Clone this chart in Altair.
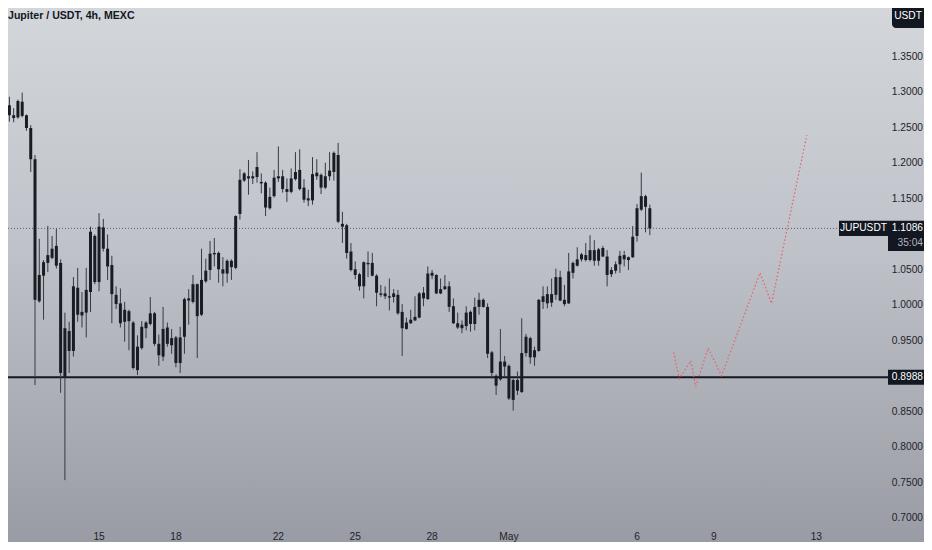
import altair as alt
import pandas as pd

# ---------------- data ----------------
open_ = [1.318, 1.282, 1.268, 1.265, 1.287, 1.268, 1.250, 1.206, 1.006, 1.042,
         1.060, 1.067, 1.084, 1.060, 0.899, 0.964, 0.936, 1.025, 0.991, 0.990,
         1.019, 1.098, 1.033, 1.110, 1.080, 1.057, 1.015, 1.003, 0.977, 0.992,
         0.976, 0.909, 0.940, 0.968, 0.974, 0.989, 0.946, 0.928, 0.969, 0.954,
         0.955, 0.919, 0.956, 1.007, 1.005, 1.030, 0.987, 1.034, 1.050, 1.072,
         1.074, 1.051, 1.045, 1.063, 1.053, 1.129, 1.176, 1.182, 1.182, 1.181,
         1.174, 1.173, 1.137, 1.154, 1.179, 1.182, 1.164, 1.160, 1.178, 1.191,
         1.166, 1.151, 1.148, 1.182, 1.184, 1.166, 1.182, 1.188, 1.212, 1.115,
         1.113, 1.076, 1.051, 1.044, 1.027, 1.060, 1.060, 1.042, 1.017, 1.017,
         1.013, 1.012, 1.015, 0.991, 0.976, 0.975, 0.979, 0.983, 1.010, 1.009,
         1.046, 1.043, 1.017, 1.023, 1.027, 0.999, 0.975, 0.968, 0.971, 0.991,
         0.974, 0.998, 1.008, 0.998, 0.934, 0.901, 0.896, 0.921, 0.915, 0.867,
         0.880, 0.878, 0.933, 0.954, 0.937, 0.936, 1.005, 1.016, 1.004, 1.015,
         1.040, 1.008, 1.003, 1.046, 1.056, 1.065, 1.071, 1.064, 1.078, 1.063,
         1.081, 1.069, 1.050, 1.049, 1.058, 1.071, 1.068, 1.068, 1.098, 1.135,
         1.154, 1.137]
high = [1.357, 1.294, 1.278, 1.290, 1.300, 1.269, 1.254, 1.212, 1.094, 1.064,
        1.112, 1.098, 1.108, 1.065, 0.990, 0.977, 1.040, 1.053, 1.019, 1.053,
        1.111, 1.100, 1.130, 1.122, 1.100, 1.070, 1.027, 1.024, 1.005, 0.994,
        0.978, 0.958, 0.978, 0.978, 1.012, 0.991, 0.959, 0.998, 0.976, 0.967,
        0.957, 0.970, 1.011, 1.023, 1.043, 1.031, 1.080, 1.066, 1.091, 1.095,
        1.076, 1.068, 1.065, 1.065, 1.127, 1.192, 1.188, 1.205, 1.189, 1.216,
        1.186, 1.175, 1.166, 1.191, 1.224, 1.191, 1.179, 1.193, 1.216, 1.220,
        1.178, 1.163, 1.209, 1.206, 1.186, 1.201, 1.216, 1.217, 1.229, 1.132,
        1.115, 1.088, 1.062, 1.046, 1.062, 1.076, 1.074, 1.044, 1.029, 1.027,
        1.038, 1.023, 1.022, 1.002, 0.983, 0.994, 1.013, 1.019, 1.026, 1.055,
        1.050, 1.044, 1.038, 1.043, 1.034, 1.010, 0.990, 0.979, 0.999, 0.993,
        1.011, 1.018, 1.010, 1.003, 0.936, 0.903, 0.967, 0.929, 0.917, 0.897,
        0.907, 0.982, 0.960, 0.956, 0.942, 1.009, 1.027, 1.027, 1.038, 1.052,
        1.049, 1.029, 1.074, 1.062, 1.082, 1.074, 1.088, 1.099, 1.092, 1.081,
        1.084, 1.078, 1.054, 1.062, 1.077, 1.077, 1.069, 1.112, 1.143, 1.187,
        1.156, 1.142]
low = [1.278, 1.259, 1.258, 1.263, 1.265, 1.246, 1.188, 0.888, 1.004, 0.980,
       1.047, 1.065, 1.052, 0.877, 0.754, 0.905, 0.928, 0.977, 0.969, 0.955,
       0.991, 1.030, 1.020, 1.076, 1.036, 0.975, 0.995, 0.969, 0.949, 0.937,
       0.910, 0.902, 0.938, 0.954, 0.972, 0.943, 0.915, 0.922, 0.942, 0.932,
       0.913, 0.905, 0.932, 0.973, 1.003, 0.926, 0.985, 1.032, 1.036, 1.055,
       1.032, 1.027, 1.032, 1.036, 1.051, 1.121, 1.174, 1.156, 1.171, 1.173,
       1.158, 1.126, 1.135, 1.152, 1.174, 1.159, 1.146, 1.158, 1.176, 1.162,
       1.145, 1.140, 1.142, 1.177, 1.157, 1.164, 1.176, 1.176, 1.116, 1.088,
       1.066, 1.048, 1.037, 1.021, 1.010, 1.040, 1.041, 0.999, 1.012, 1.009,
       0.993, 1.004, 0.987, 0.929, 0.966, 0.974, 0.978, 0.982, 0.999, 1.008,
       1.037, 1.016, 1.016, 1.022, 0.991, 0.974, 0.967, 0.961, 0.965, 0.963,
       0.965, 0.987, 0.997, 0.926, 0.897, 0.874, 0.894, 0.900, 0.867, 0.852,
       0.874, 0.877, 0.928, 0.918, 0.915, 0.935, 0.995, 0.996, 0.998, 1.008,
       1.006, 0.999, 1.002, 1.038, 1.055, 1.062, 1.062, 1.062, 1.056, 1.056,
       1.068, 1.027, 1.040, 1.045, 1.046, 1.055, 1.050, 1.067, 1.090, 1.133,
       1.103, 1.099]
close = [1.282, 1.268, 1.264, 1.288, 1.267, 1.250, 1.206, 1.008, 1.043, 1.061,
         1.071, 1.080, 1.056, 0.905, 0.968, 0.936, 1.027, 0.987, 0.986, 1.022,
         1.104, 1.033, 1.111, 1.080, 1.055, 1.016, 1.002, 0.975, 0.994, 0.978,
         0.912, 0.942, 0.970, 0.976, 0.989, 0.946, 0.930, 0.967, 0.946, 0.944,
         0.919, 0.955, 1.009, 1.010, 1.030, 0.985, 1.036, 1.049, 1.073, 1.074,
         1.051, 1.045, 1.063, 1.054, 1.126, 1.177, 1.186, 1.179, 1.179, 1.195,
         1.172, 1.138, 1.153, 1.180, 1.182, 1.164, 1.160, 1.179, 1.188, 1.164,
         1.149, 1.148, 1.185, 1.187, 1.166, 1.182, 1.190, 1.215, 1.118, 1.111,
         1.074, 1.050, 1.043, 1.027, 1.061, 1.058, 1.042, 1.018, 1.015, 1.013,
         1.011, 1.017, 0.989, 0.968, 0.967, 0.980, 0.984, 1.017, 1.018, 1.045,
         1.042, 1.017, 1.023, 1.027, 0.998, 0.975, 0.969, 0.973, 0.990, 0.974,
         0.998, 1.008, 0.998, 0.932, 0.905, 0.887, 0.921, 0.914, 0.869, 0.895,
         0.895, 0.933, 0.956, 0.927, 0.927, 1.008, 1.013, 1.003, 1.016, 1.040,
         1.007, 1.002, 1.048, 1.060, 1.065, 1.072, 1.064, 1.078, 1.063, 1.079,
         1.069, 1.043, 1.044, 1.058, 1.070, 1.065, 1.064, 1.097, 1.137, 1.154,
         1.139, 1.1086]

first_candle = "2024-04-11 08:00"
axis_origin = "2024-04-15"          # the "15" tick

# projected path (red dotted), day offset from Apr 15 and price
proj_day = [22.43, 22.65, 23.10, 23.29, 23.78, 24.30, 25.80, 26.25, 27.63]
proj_price = [0.934, 0.897, 0.922, 0.886, 0.940, 0.901, 1.046, 1.003, 1.240]

tick_day = [0, 3, 7, 10, 13, 16, 21, 24, 28]
tick_label = ["15", "18", "22", "25", "28", "May", "6", "9", "13"]
price_ticks = [0.70, 0.75, 0.80, 0.85, 0.95, 1.00, 1.05, 1.15, 1.20, 1.25, 1.30, 1.35]

support = 0.8988
last_price = 1.1086
countdown = "35:04"
symbol = "JUPUSDT"
currency = "USDT"
title_text = "Jupiter / USDT, 4h, MEXC"

# ---------------- frames ----------------
times = pd.date_range(first_candle, periods=len(open_), freq="4h")
day = ((times - pd.Timestamp(axis_origin)) / pd.Timedelta(days=1)).tolist()
df = pd.DataFrame({"day": day, "open": open_, "high": high, "low": low, "close": close})
proj = pd.DataFrame({"day": proj_day, "price": proj_price, "k": list(range(len(proj_day)))})
xticks = pd.DataFrame({"day": tick_day, "label": tick_label})
yticks = pd.DataFrame({"price": price_ticks, "label": [f"{p:.4f}" for p in price_ticks]})
one = pd.DataFrame({"a": [0]})

W, H = 916, 534
xs = alt.Scale(domain=[-3.359, 32.008], nice=False, zero=False)
ys = alt.Scale(domain=[0.6669, 1.4190], nice=False, zero=False)

FONT = "Liberation Sans, Arial, sans-serif"
DARK = "#131722"
TXT = "#1e222d"
FS = 10.2
RX = 915  # right edge of the price-scale texts

grad = alt.LinearGradient(
    gradient="linear",
    stops=[alt.GradientStop(color="#d3d6db", offset=0),
           alt.GradientStop(color="#bfc2c8", offset=0.45),
           alt.GradientStop(color="#999ca4", offset=1)],
    x1=0, x2=0, y1=0, y2=1)

bg = alt.Chart(one).mark_rect(color=grad).encode(
    x=alt.value(0), x2=alt.value(W), y=alt.value(0), y2=alt.value(H))

last_line = alt.Chart(one).mark_rule(color="#5d606b", strokeDash=[1, 2], strokeWidth=1).encode(
    y=alt.YDatum(last_price, scale=ys, axis=None))
support_line = alt.Chart(one).mark_rule(color=DARK, strokeWidth=2).encode(
    y=alt.YDatum(support, scale=ys, axis=None))

proj_line = alt.Chart(proj).mark_line(color="#e4606a", strokeDash=[1.5, 2.2], strokeWidth=1.2).encode(
    x=alt.X("day:Q", scale=xs, axis=None),
    y=alt.Y("price:Q", scale=ys, axis=None),
    order="k:Q")

base = alt.Chart(df)
wicks = base.mark_rule(color="#373a42", strokeWidth=1).encode(
    x=alt.X("day:Q", scale=xs, axis=None),
    y=alt.Y("low:Q", scale=ys, axis=None),
    y2="high:Q")
bodies = base.transform_calculate(
    bb="min(datum.open, datum.close)",
    bt="max(datum.open, datum.close, min(datum.open, datum.close) + 0.0016)"
).mark_bar(size=3, color="#1a1c23").encode(
    x=alt.X("day:Q", scale=xs, axis=None),
    y=alt.Y("bt:Q", scale=ys, axis=None),
    y2="bb:Q")

# axis labels (price scale on the right, dates at the bottom)
ylabels = alt.Chart(yticks).mark_text(font=FONT, fontSize=FS, color=TXT, align="right",
                                      baseline="middle").encode(
    x=alt.value(RX), y=alt.Y("price:Q", scale=ys, axis=None), text="label:N")
xlabels = alt.Chart(xticks).mark_text(font=FONT, fontSize=FS, color=TXT, align="center",
                                      baseline="middle").encode(
    x=alt.X("day:Q", scale=xs, axis=None), y=alt.value(529), text="label:N")

hb = 0.0106  # half height of a price tag, in price units
sym_box = alt.Chart(one).mark_rect(color=DARK).encode(
    x=alt.value(831), x2=alt.value(880),
    y=alt.YDatum(last_price + hb, scale=ys, axis=None), y2=alt.Y2Datum(last_price - hb))
price_box = alt.Chart(one).mark_rect(color=DARK).encode(
    x=alt.value(880), x2=alt.value(W),
    y=alt.YDatum(last_price + hb, scale=ys, axis=None), y2=alt.Y2Datum(last_price - 3 * hb))
sup_box = alt.Chart(one).mark_rect(color=DARK).encode(
    x=alt.value(880), x2=alt.value(W),
    y=alt.YDatum(support + hb, scale=ys, axis=None), y2=alt.Y2Datum(support - hb))
cur_box = alt.Chart(one).mark_rect(color=DARK, cornerRadius=4).encode(
    x=alt.value(884), x2=alt.value(W + 6), y=alt.value(-5), y2=alt.value(20))

def tag(text, x, yv, color="#ffffff", dy=0, align="center"):
    return alt.Chart(one).mark_text(text=text, font=FONT, fontSize=FS, color=color,
                                    align=align, baseline="middle", dy=dy).encode(
        x=alt.value(x), y=alt.YDatum(yv, scale=ys, axis=None))

sym_txt = tag(symbol, 855.5, last_price)
last_txt = tag(f"{last_price:.4f}", RX, last_price, align="right")
cd_txt = tag(countdown, RX, last_price, color="#b2b5be", dy=15, align="right")
sup_txt = tag(f"{support:.4f}", RX, support, align="right")
cur_txt = alt.Chart(one).mark_text(text=currency, font=FONT, fontSize=FS, color="#ffffff",
                                   align="center", baseline="middle").encode(
    x=alt.value(900), y=alt.value(8))
title = alt.Chart(one).mark_text(text=title_text, font=FONT, fontSize=10.6, fontWeight="bold",
                                 color=DARK, align="left", baseline="middle").encode(
    x=alt.value(0), y=alt.value(8))

chart = alt.layer(
    bg, last_line, support_line, proj_line, wicks, bodies,
    ylabels, xlabels,
    sym_box, price_box, sup_box, cur_box,
    sym_txt, last_txt, cd_txt, sup_txt, cur_txt, title
).properties(
    width=W, height=H, padding=0,
    autosize=alt.AutoSizeParams(type="none"),
    background="#a9acb3"
).configure_view(stroke=None)

chart.save("out.html", embed_options={"renderer": "svg", "actions": False})
